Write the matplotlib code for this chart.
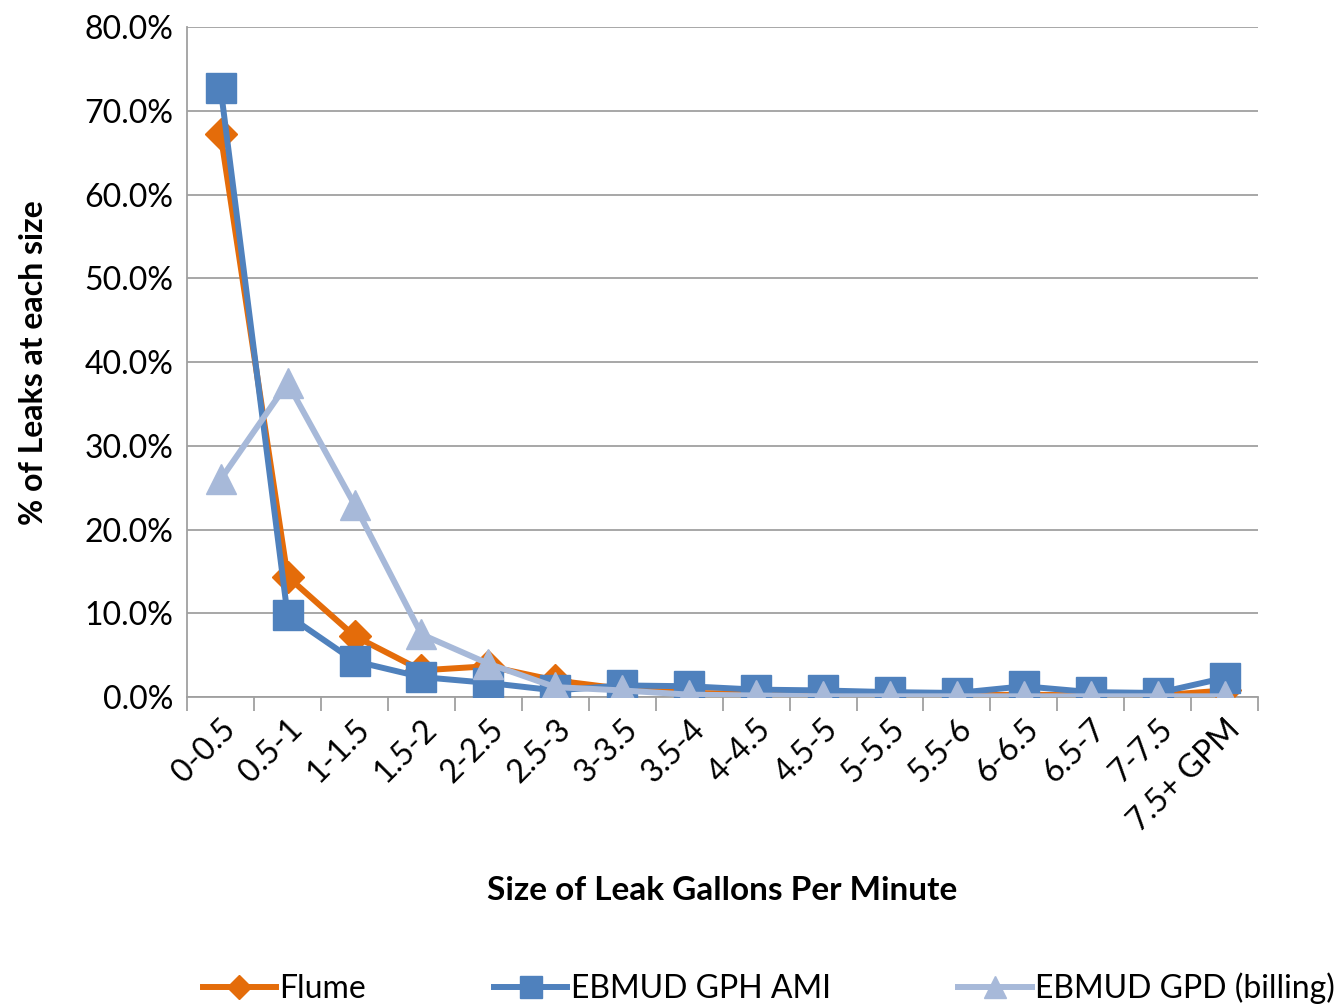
import matplotlib
matplotlib.use("Agg")
import matplotlib.pyplot as plt
from matplotlib.ticker import FuncFormatter, MultipleLocator
import numpy as np

plt.rcParams['font.family'] = ['Lato', 'DejaVu Sans']

categories = ["0-0.5", "0.5-1", "1-1.5", "1.5-2", "2-2.5", "2.5-3", "3-3.5", "3.5-4",
              "4-4.5", "4.5-5", "5-5.5", "5.5-6", "6-6.5", "6.5-7", "7-7.5", "7.5+ GPM"]

flume = [67.2, 14.4, 7.3, 3.2, 3.7, 2.0, 1.0, 0.5, 0.4, 0.3, 0.3, 0.2, 0.3, 0.2, 0.2, 0.8]
ebmud_ami = [72.7, 9.8, 4.3, 2.4, 1.7, 0.8, 1.4, 1.3, 0.9, 0.8, 0.6, 0.5, 1.3, 0.6, 0.5, 2.3]
ebmud_gpd = [26.0, 37.5, 23.0, 7.5, 4.0, 1.2, 0.8, 0.3, 0.2, 0.1, 0.1, 0.1, 0.1, 0.1, 0.1, 0.1]

fig = plt.figure(figsize=(13.37, 10.06), dpi=100)
ax = fig.add_axes([0.14, 0.307, 0.801, 0.666])

x = np.arange(len(categories))
ax.plot(x, flume, color="#E46C0A", lw=4.3, marker="D", ms=16, label="Flume", zorder=3)
ax.plot(x, ebmud_ami, color="#4F81BD", lw=4.3, marker="s", ms=21, label="EBMUD GPH AMI", zorder=4)
ax.plot(x, ebmud_gpd, color="#A7B9D9", lw=4.3, marker="^", ms=22, label="EBMUD GPD (billing)", zorder=5)

ax.set_xlim(-0.5, len(categories) - 0.5)
ax.set_ylim(0, 80)
ax.yaxis.set_major_locator(MultipleLocator(10))
ax.yaxis.set_major_formatter(FuncFormatter(lambda v, p: f"{v:.1f}%"))
ax.grid(axis="y", color="#a0a0a0", lw=1.3)
ax.set_axisbelow(True)

ax.set_xticks(x)
ax.set_xticklabels(categories, rotation=45, ha="right", rotation_mode="anchor")
ax.set_xticks(np.arange(-0.5, len(categories)), minor=True)
ax.tick_params(axis="x", which="major", length=0, labelsize=23, pad=12)
ax.tick_params(axis="x", which="minor", length=10, color="#a0a0a0", width=1.3)
ax.tick_params(axis="y", length=0, labelsize=23, pad=10)

for s in ["top", "right"]:
    ax.spines[s].set_visible(False)
for s in ["left", "bottom"]:
    ax.spines[s].set_color("#a0a0a0")
    ax.spines[s].set_linewidth(1.3)

ax.set_ylabel("% of Leaks at each size", fontsize=23, fontweight="bold", labelpad=26)
fig.text(0.54, 0.115, "Size of Leak Gallons Per Minute", fontsize=24, fontweight="bold",
         ha="center", va="center")

fig.legend(loc="center", bbox_to_anchor=(0.575, 0.018), ncol=3, frameon=False,
           fontsize=23, columnspacing=4.0, handlelength=2.3, handletextpad=0.1,
           markerscale=0.75)

fig.savefig("out.png", dpi=100)
